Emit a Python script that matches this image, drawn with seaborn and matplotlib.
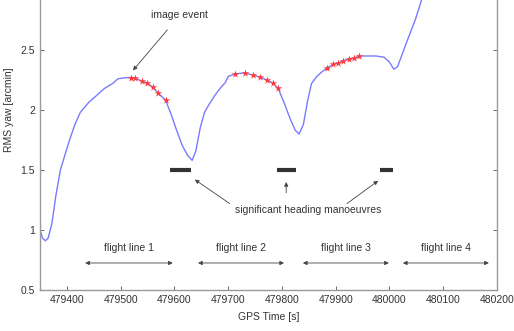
import seaborn as sns
import matplotlib.pyplot as plt
import pandas as pd
import numpy as np

sns.set_style("ticks")
plt.rcParams['font.family'] = ['Liberation Sans', 'DejaVu Sans']

# RMS yaw trace
gps_time = [479350, 479355, 479360, 479365, 479372, 479380, 479388, 479396, 479405,
            479415, 479425, 479440, 479455, 479470, 479485, 479495, 479510, 479519,
            479527, 479540, 479549, 479560, 479570, 479584, 479595, 479605, 479615,
            479625, 479633, 479640, 479648, 479656, 479665, 479675, 479685, 479695,
            479700, 479713, 479731, 479746, 479759, 479772, 479783, 479793, 479805,
            479815, 479825, 479832, 479840, 479848, 479855, 479865, 479875, 479884,
            479895, 479904, 479914, 479925, 479934, 479943, 479960, 479975, 479990,
            480000, 480008, 480015, 480025, 480035, 480048, 480060, 480075, 480090,
            480105]
rms_yaw = [1.00, 0.93, 0.91, 0.93, 1.05, 1.30, 1.50, 1.62, 1.75,
           1.88, 1.98, 2.06, 2.12, 2.18, 2.22, 2.26, 2.27, 2.27,
           2.265, 2.24, 2.225, 2.19, 2.14, 2.08, 1.95, 1.82, 1.70,
           1.62, 1.58, 1.66, 1.85, 1.98, 2.05, 2.12, 2.18, 2.23,
           2.28, 2.30, 2.31, 2.29, 2.275, 2.25, 2.225, 2.18, 2.05,
           1.93, 1.83, 1.80, 1.88, 2.08, 2.22, 2.28, 2.32, 2.35,
           2.38, 2.39, 2.41, 2.425, 2.43, 2.45, 2.45, 2.45, 2.44,
           2.40, 2.34, 2.36, 2.48, 2.60, 2.75, 2.92, 3.10, 3.25,
           3.35]

# image events (red stars)
event_time = [479519, 479527, 479540, 479549, 479560, 479570, 479584,
              479713, 479731, 479746, 479759, 479772, 479783, 479793,
              479884, 479895, 479904, 479914, 479925, 479934, 479943]
event_yaw = [2.27, 2.265, 2.24, 2.225, 2.19, 2.14, 2.08,
             2.30, 2.31, 2.29, 2.275, 2.25, 2.225, 2.18,
             2.35, 2.38, 2.39, 2.41, 2.425, 2.43, 2.45]

# heading manoeuvres (start, end)
manoeuvre_start = [479592, 479791, 479983]
manoeuvre_end = [479630, 479826, 480007]
manoeuvre_level = 1.5

# flight lines
flight_labels = ["flight line 1", "flight line 2", "flight line 3", "flight line 4"]
flight_start = [479434, 479644, 479839, 480025]
flight_end = [479597, 479804, 479999, 480185]

df = pd.DataFrame({"t": gps_time, "yaw": rms_yaw})
ev = pd.DataFrame({"t": event_time, "yaw": event_yaw})

fig = plt.figure(figsize=(5.14, 3.31), dpi=100)
ax = fig.add_axes([0.0778, 0.1239, 0.889, 1.0876])

sns.lineplot(data=df, x="t", y="yaw", ax=ax, color="#7a7aff", linewidth=1.0)
sns.scatterplot(data=ev, x="t", y="yaw", ax=ax, color="#ff3b3b", marker="*",
                s=32, linewidth=0, zorder=3)

ax.hlines([manoeuvre_level] * 3, manoeuvre_start, manoeuvre_end,
          color="#333333", linewidth=3)

txtc = "#333333"
fs = 7.5
ax.annotate("image event", xy=(479523, 2.33), xytext=(479610, 2.79),
            ha="center", va="center", fontsize=fs, color=txtc,
            arrowprops=dict(arrowstyle="-|>", color="#444444", lw=0.6,
                            mutation_scale=6, shrinkA=6, shrinkB=0))

ax.text(479849, 1.17, "significant heading manoeuvres", ha="center", va="center",
        fontsize=fs, color=txtc)
for tail, head in [((479703, 1.22), (479638, 1.42)),
                   ((479808, 1.31), (479808, 1.40)),
                   ((479921, 1.22), (479979, 1.41))]:
    ax.annotate("", xy=head, xytext=tail,
                arrowprops=dict(arrowstyle="-|>", color="#444444", lw=0.6,
                                mutation_scale=6, shrinkA=0, shrinkB=0))

for lab, s, e in zip(flight_labels, flight_start, flight_end):
    ax.annotate("", xy=(s, 0.725), xytext=(e, 0.725),
                arrowprops=dict(arrowstyle="<|-|>", color="#444444", lw=0.6,
                                mutation_scale=6, shrinkA=0, shrinkB=0))
    ax.text((s + e) / 2, 0.85, lab, ha="center", va="center", fontsize=fs, color=txtc)

ax.set_xlim(479350, 480200)
ax.set_ylim(0.5, 3.5)
ax.set_xticks(np.arange(479400, 480201, 100))
ax.set_xticklabels([str(v) for v in range(479400, 480201, 100)])
ax.set_yticks([0.5, 1, 1.5, 2, 2.5])
ax.set_yticklabels(["0.5", "1", "1.5", "2", "2.5"])
ax.set_xlabel("GPS Time [s]", fontsize=fs, color=txtc, labelpad=5)
ax.set_ylabel("RMS yaw [arcmin]", fontsize=fs, color=txtc, labelpad=5)
ax.tick_params(direction="in", top=True, right=True, labelsize=fs,
               colors="#555555", labelcolor=txtc, length=3, width=0.6)
for sp in ax.spines.values():
    sp.set_color("#999999")
    sp.set_linewidth(1.0)

fig.savefig("out.png", dpi=100)
plt.close(fig)
